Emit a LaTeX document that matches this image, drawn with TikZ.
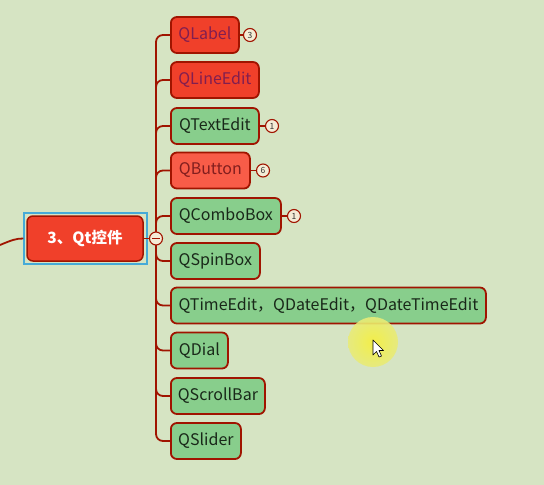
\documentclass[tikz,border=0pt]{standalone}
\usepackage{fontspec}
\setmainfont{Noto Sans CJK SC}
\definecolor{bg}{RGB}{214,228,195}
\definecolor{redbox}{RGB}{240,64,42}
\definecolor{redboxlight}{RGB}{248,92,72}
\definecolor{greenbox}{RGB}{136,206,140}
\definecolor{edge}{RGB}{160,20,0}
\definecolor{redtext}{RGB}{130,30,80}
\definecolor{btntext}{RGB}{130,30,30}
\definecolor{greentext}{RGB}{25,40,25}
\definecolor{selblue}{RGB}{70,170,215}
\definecolor{badgefill}{RGB}{244,236,214}
\definecolor{hilite}{RGB}{246,240,60}
\tikzset{
  topic/.style={draw=edge, line width=1.8pt, rounded corners=6pt, minimum height=36pt,
    inner xsep=6pt, anchor=west, font=\fontsize{16}{18}\selectfont},
  redtopic/.style={topic, fill=redbox, text=redtext},
  btntopic/.style={topic, fill=redboxlight, text=btntext},
  greentopic/.style={topic, fill=greenbox, text=greentext},
  badge/.style={circle, draw=edge, line width=1.1pt, fill=badgefill, minimum size=13pt,
    inner sep=0pt, font=\fontsize{8.5}{9}\selectfont, text=black!80},
  branch/.style={draw=edge, line width=1.8pt, rounded corners=7pt},
}
\begin{document}
\begin{tikzpicture}[x=1pt,y=-1pt]
\fill[bg] (0,0) rectangle (544,485);
\useasboundingbox (0,0) rectangle (544,485);

% central topic
\node[draw=selblue, line width=1.4pt, minimum width=123pt, minimum height=51pt, inner sep=0pt] (sel) at (85.5,238.5) {};
\node[draw=edge, line width=1.5pt, fill=redbox, rounded corners=6pt, minimum width=116pt, minimum height=45pt,
  text=white, font=\bfseries\fontsize{15.5}{18}\selectfont] (qt) at (85,238.5) {3、Qt控件};
\coordinate (in) at (0,245);
\draw[edge, line width=1.8pt] (in) .. controls (12,240) and (16,238.5) .. (sel.west);

\coordinate (hub) at (156,238.5);

% children
\node[redtopic, minimum width=68pt] (c1) at (170,35) {QLabel};
\node[redtopic, minimum width=88pt] (c2) at (170,80) {QLineEdit};
\node[greentopic, minimum width=88pt] (c3) at (170,126) {QTextEdit};
\node[btntopic, minimum width=79pt] (c4) at (170,170.5) {QButton};
\node[greentopic, minimum width=110pt] (c5) at (170,216) {QComboBox};
\node[greentopic, minimum width=89pt] (c6) at (170,261) {QSpinBox};
\node[greentopic, minimum width=315pt] (c7) at (170,305.5) {QTimeEdit，QDateEdit，QDateTimeEdit};
\node[greentopic, minimum width=57pt] (c8) at (170,350.5) {QDial};
\node[greentopic, minimum width=94pt] (c9) at (170,396) {QScrollBar};
\node[greentopic, minimum width=70pt] (c10) at (170,441) {QSlider};

\foreach \c in {c1,c2,c3,c4,c5,c6,c7,c8,c9,c10}{
  \draw[branch] (hub) |- (\c.west);
}

% collapse control
\draw[edge, line width=1.5pt] (qt.east) -- (149,238.5);
\node[circle, draw=edge, line width=1.1pt, fill=badgefill, minimum size=13pt, inner sep=0pt] (col) at (hub) {};
\draw[edge, line width=1.3pt] ([xshift=-3.8pt]col.center) -- ([xshift=3.8pt]col.center);

% badges
\node[badge] (b1) at (250,35) {3};
\node[badge] (b3) at (272,126) {1};
\node[badge] (b4) at (263,170.5) {6};
\node[badge] (b5) at (294,216) {1};
\draw[edge, line width=1.3pt] (c1.east) -- (b1.west);
\draw[edge, line width=1.3pt] (c3.east) -- (b3.west);
\draw[edge, line width=1.3pt] (c4.east) -- (b4.west);
\draw[edge, line width=1.3pt] (c5.east) -- (b5.west);

% pointer highlight and cursor
\shade[inner color=hilite, outer color=hilite!55!bg, opacity=0.9] (373,342) circle (25pt);
\draw[black, fill=white, line width=0.6pt, line join=round]
  (373,340) -- (373,355) -- (376.5,351.5) -- (379,357) -- (381.5,356) -- (379,350.5) -- (383.5,350.5) -- cycle;
\end{tikzpicture}
\end{document}
